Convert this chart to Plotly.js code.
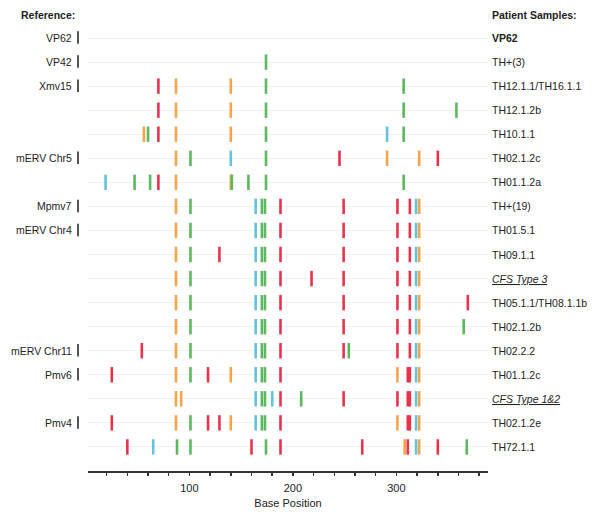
<!DOCTYPE html>
<html>
<head>
<meta charset="utf-8">
<script src="https://cdn.plot.ly/plotly-3.0.1.min.js"></script>
<style>html,body{margin:0;padding:0;background:#fff;}#chart{width:600px;height:512px;}</style>
</head>
<body>
<div id="chart"></div>
<script>
// Right-hand row labels (patient samples), top to bottom
const sampleLabels = ["<b>VP62</b>", "TH+(3)", "TH12.1.1/TH16.1.1", "TH12.1.2b", "TH10.1.1", "TH02.1.2c",
  "TH01.1.2a", "TH+(19)", "TH01.5.1", "TH09.1.1", "<i><u>CFS Type 3</u></i>", "TH05.1.1/TH08.1.1b",
  "TH02.1.2b", "TH02.2.2", "TH01.1.2c", "<i><u>CFS Type 1&2</u></i>", "TH02.1.2e", "TH72.1.1"];
// Left-hand reference labels and the row they sit on
const refLabels = ["VP62", "VP42", "Xmv15", "mERV Chr5", "Mpmv7", "mERV Chr4", "mERV Chr11", "Pmv6", "Pmv4"];
const refRows = [0, 1, 2, 5, 7, 8, 13, 14, 16];

// Marks: base position and row index, one pair of arrays per colour
const redPos = [70, 70, 70, 245, 340, 70,
  188, 249, 301, 313,
  188, 249, 301, 313,
  129, 188, 249, 301, 313,
  188, 218, 249, 301, 313,
  188, 249, 301, 313, 369,
  188, 249, 301, 313,
  54, 188, 249, 301, 313,
  25, 118, 188, 311, 313,
  188, 249, 301, 311, 313,
  25, 118, 129, 188, 311, 313,
  40, 160, 188, 267, 311, 340];
const redRow = [2, 3, 4, 5, 5, 6,
  7, 7, 7, 7,
  8, 8, 8, 8,
  9, 9, 9, 9, 9,
  10, 10, 10, 10, 10,
  11, 11, 11, 11, 11,
  12, 12, 12, 12,
  13, 13, 13, 13, 13,
  14, 14, 14, 14, 14,
  15, 15, 15, 15, 15,
  16, 16, 16, 16, 16, 16,
  17, 17, 17, 17, 17, 17];

const orangePos = [87, 140, 87, 140, 56, 87, 140, 87, 291, 322, 87, 140,
  87, 322, 87, 322, 87, 322, 87, 322, 87, 322, 87, 322, 87, 322,
  87, 140, 301, 322, 87, 92, 322, 87, 140, 301, 322, 308, 322];
const orangeRow = [2, 2, 3, 3, 4, 4, 4, 5, 5, 5, 6, 6,
  7, 7, 8, 8, 9, 9, 10, 10, 11, 11, 12, 12, 13, 13,
  14, 14, 14, 14, 15, 15, 15, 16, 16, 16, 16, 17, 17];

const greenPos = [174, 174, 307, 174, 307, 358, 60, 174, 307, 101, 174,
  47, 62, 141, 157, 174, 307,
  101, 170, 173, 101, 170, 173, 101, 170, 173, 101, 170, 173,
  101, 170, 173, 101, 170, 173, 365,
  101, 170, 173, 254, 101, 170, 173,
  170, 173, 208, 101, 170, 173,
  88, 101, 174, 368];
const greenRow = [1, 2, 2, 3, 3, 3, 4, 4, 4, 5, 5,
  6, 6, 6, 6, 6, 6,
  7, 7, 7, 8, 8, 8, 9, 9, 9, 10, 10, 10,
  11, 11, 11, 12, 12, 12, 12,
  13, 13, 13, 13, 14, 14, 14,
  15, 15, 15, 16, 16, 16,
  17, 17, 17, 17];

const cyanPos = [291, 140, 19,
  164, 319, 164, 319, 164, 319, 164, 319, 164, 319, 164, 319,
  164, 319, 164, 319, 164, 180, 319, 164, 319, 65, 319];
const cyanRow = [4, 5, 6,
  7, 7, 8, 8, 9, 9, 10, 10, 11, 11, 12, 12,
  13, 13, 14, 14, 15, 15, 15, 16, 16, 17, 17];

// Axis ticks
const tickVals = [20, 40, 60, 80, 100, 120, 140, 160, 180, 200, 220, 240, 260, 280, 300, 320, 340, 360, 380];
const tickText = tickVals.map(v => (v % 100 === 0 ? String(v) : ""));

const FONT = "Liberation Sans, Arial, Helvetica, sans-serif";

function markTrace(x, y, color) {
  return {
    type: "scatter", mode: "markers", x: x, y: y, hoverinfo: "x",
    marker: { symbol: "line-ns", size: 11, color: color, line: { color: color, width: 2.6 } },
    showlegend: false
  };
}

const data = [
  markTrace(redPos, redRow, "#e8334c"),
  markTrace(orangePos, orangeRow, "#f5a449"),
  markTrace(greenPos, greenRow, "#5cb85c"),
  markTrace(cyanPos, cyanRow, "#62c3dc")
];

const annotations = [];
sampleLabels.forEach((t, i) => annotations.push({
  xref: "paper", yref: "y", x: 1, y: i, xanchor: "left", yanchor: "middle", xshift: 2,
  text: t, showarrow: false, font: { family: FONT, size: 10.5, color: "#222" }
}));
refLabels.forEach((t, i) => annotations.push({
  xref: "paper", yref: "y", x: 0, y: refRows[i], xanchor: "right", yanchor: "middle", xshift: -14,
  text: t, showarrow: false, font: { family: FONT, size: 10.5, color: "#222" }
}));
annotations.push({ xref: "paper", yref: "paper", x: 0, y: 1, xanchor: "left", yanchor: "bottom",
  xshift: -69, yshift: 3, text: "<b>Reference:</b>", showarrow: false, font: { family: FONT, size: 10.5, color: "#222" } });
annotations.push({ xref: "paper", yref: "paper", x: 1, y: 1, xanchor: "left", yanchor: "bottom",
  xshift: 2, yshift: 3, text: "<b>Patient Samples:</b>", showarrow: false, font: { family: FONT, size: 10.5, color: "#222" } });

const shapes = refRows.map(r => ({
  type: "line", xref: "paper", yref: "y", x0: -0.025, x1: -0.025, y0: r - 0.28, y1: r + 0.24,
  line: { color: "#555", width: 2 }
}));

const layout = {
  width: 600, height: 512,
  margin: { l: 88, r: 112, t: 26, b: 41 },
  paper_bgcolor: "#fff", plot_bgcolor: "#fff",
  font: { family: FONT, size: 11, color: "#222" },
  xaxis: {
    range: [2, 388.5], tickmode: "array", tickvals: tickVals, ticktext: tickText,
    ticks: "outside", ticklen: 3, tickwidth: 1.5, tickcolor: "#333",
    showline: true, linecolor: "#333", linewidth: 2, showgrid: false, zeroline: false,
    ticklabelstandoff: 3,
    tickfont: { family: FONT, size: 11, color: "#222" },
    title: { text: "Base Position", font: { family: FONT, size: 11, color: "#222" }, standoff: 6 }
  },
  yaxis: {
    range: [18, -0.5], tickmode: "array", tickvals: sampleLabels.map((_, i) => i),
    showticklabels: false, ticks: "", showgrid: true, gridcolor: "#f0f0f0", gridwidth: 1,
    zeroline: false, showline: false
  },
  annotations: annotations,
  shapes: shapes
};

Plotly.newPlot("chart", data, layout, { displayModeBar: false, staticPlot: true });
</script>
</body>
</html>
